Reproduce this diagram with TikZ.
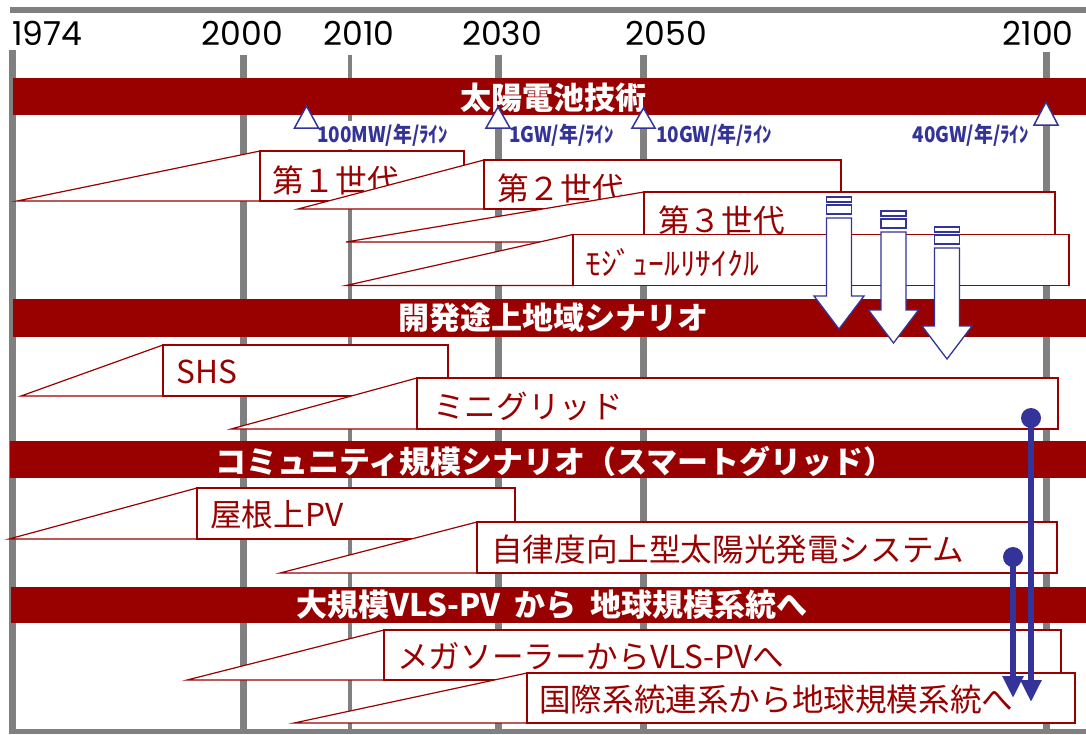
\documentclass[tikz,border=0pt]{standalone}
\usepackage{fontspec}
\usetikzlibrary{arrows.meta}
\newfontfamily\jp{Noto Sans CJK JP}
\newfontfamily\yearfont{Poppins}
\definecolor{dred}{HTML}{990000}
\definecolor{bblue}{HTML}{333399}
\definecolor{lgray}{HTML}{808080}
\tikzset{
  gridline/.style={fill=lgray},
  year/.style={font=\yearfont\fontsize{33}{33}\selectfont, inner sep=0, text=black},
  band/.style={fill=dred},
  bandtext/.style={text=white, font=\jp\bfseries\fontsize{31}{31}\selectfont, inner sep=0},
  wedge/.style={draw=dred, fill=white, line width=1.2pt, line join=miter},
  calloutbox/.style={draw=dred, fill=white, line width=1.2pt, inner sep=0, outer sep=0, anchor=north west},
  boxtext/.style={text=dred, font=\jp\fontsize{31.6}{31.6}\selectfont, anchor=west, inner sep=0},
  milestone/.style={draw=bblue, fill=white, line width=1.5pt, line join=miter},
  mtext/.style={text=bblue, font=\jp\bfseries\fontsize{21.5}{21.5}\selectfont, fill=white, inner xsep=0pt, inner ysep=3pt},
  blockarrow/.style={draw=bblue, fill=white, line width=1.3pt, line join=miter},
  dot/.style={circle, fill=bblue, minimum size=20pt, inner sep=0},
  conn/.style={draw=bblue, line width=6pt, -{Triangle[width=20pt,length=22pt]}}
}
% name, tailx, L, R, T, B, textx, texty, text
\newcommand{\callout}[9]{%
  \coordinate (#1tail) at (#2,#6);
  \coordinate (#1nw) at (#3,#5);
  \coordinate (#1sw) at (#3,#6);
  \filldraw[wedge] (#1tail) -- (#1nw) -- (#1sw) -- cycle;
  \node[calloutbox, minimum width=#4pt-#3pt, minimum height=#6pt-#5pt] (#1) at (#1nw) {};
  \node[boxtext] (#1t) at (#7,#8) {#9};
}
% name, left x, top y
\newcommand{\stripearrow}[3]{%
  \filldraw[blockarrow] (#2,#3) rectangle ({#2+25},{#3+5});
  \filldraw[blockarrow] (#2,{#3+8}) rectangle ({#2+25},{#3+17});
  \filldraw[blockarrow] (#2,{#3+21}) -- ({#2+25},{#3+21}) -- ({#2+25},{#3+99})
     -- ({#2+37.5},{#3+99}) -- ({#2+12.5},{#3+132}) coordinate (#1tip)
     -- ({#2-12.5},{#3+99}) -- (#2,{#3+99}) -- cycle;
}
\begin{document}
\begin{tikzpicture}[x=1pt,y=-1pt]
\useasboundingbox (0,0) rectangle (1086,734);
\fill[white] (0,0) rectangle (1086,734);

% timeline grid
\fill[gridline] (10,7) rectangle (1086,13);
\fill[gridline] (9,729) rectangle (1086,734);
\fill[gridline] (8.5,50) rectangle (15.5,734);
\fill[gridline] (239.5,55) rectangle (246.5,734);
\fill[gridline] (348.3,55) rectangle (352.3,734);
\fill[gridline] (494.5,55) rectangle (501.5,734);
\fill[gridline] (639.5,55) rectangle (646.5,734);
\fill[gridline] (1042.5,52) rectangle (1049.5,734);

% years
\node[year, anchor=base west] (y1974) at (12,45) {1974};
\node[year, anchor=base] (y2000) at (242.5,45) {2000};
\node[year, anchor=base] (y2010) at (359,45) {2010};
\node[year, anchor=base] (y2030) at (502,45) {2030};
\node[year, anchor=base] (y2050) at (666.5,45) {2050};
\node[year, anchor=base] (y2100) at (1038,45) {2100};

% band 1
\fill[band] (13,78) rectangle (1086,115);
\node[bandtext] (b1) at (553,97.5) {太陽電池技術};

% milestone labels
\node[mtext, anchor=west] (m1) at (317,135) {\scalebox{0.88}[1]{100MW/年/ﾗｲﾝ}};
\node[mtext, anchor=west] (m2) at (509,135) {\scalebox{0.88}[1]{1GW/年/ﾗｲﾝ}};
\node[mtext, anchor=west] (m3) at (656,135) {\scalebox{0.88}[1]{10GW/年/ﾗｲﾝ}};
\node[mtext, anchor=east] (m4) at (1029,135) {\scalebox{0.88}[1]{40GW/年/ﾗｲﾝ}};
\filldraw[milestone] (306.5,106) -- (318.5,128) -- (294.5,128) -- cycle;
\filldraw[milestone] (498,107) -- (510,128) -- (486,128) -- cycle;
\filldraw[milestone] (643.5,108) -- (655,128) -- (632,128) -- cycle;
\filldraw[milestone] (1046,102) -- (1058,125) -- (1034,125) -- cycle;

% solar cell generations
\callout{g1}{17}{260}{464}{151}{201}{272}{180}{第１世代}
\callout{g2}{298}{484}{841}{160}{209}{497}{188}{第２世代}
\callout{g3}{346}{644}{1055}{192}{242}{658}{220}{第３世代}
\callout{g4}{346}{573}{1069}{234.5}{285.5}{585}{263}{ﾓｼﾞｭｰﾙﾘｻｲｸﾙ}

% band 2
\fill[band] (13,299) rectangle (1086,337);
\node[bandtext] (b2) at (553,318) {開発途上地域シナリオ};

% recycling arrows
\stripearrow{ra1}{826.5}{197}
\stripearrow{ra2}{881}{211}
\stripearrow{ra3}{934.5}{227}

% developing regions
\callout{s1}{21}{163}{448}{345}{396}{176}{372}{SHS}
\callout{s2}{231}{417}{1058}{378}{429}{433}{406}{ミニグリッド}

% band 3
\fill[band] (10,441) rectangle (1086,478);
\node[bandtext] (b3) at (555,461) {コミュニティ規模シナリオ（スマートグリッド）};

\callout{c1}{9}{197}{515}{488}{539}{210}{515}{屋根上PV}
\callout{c2}{280}{477}{1057}{522}{573}{491}{550}{自律度向上型太陽光発電システム}

% band 4
\fill[band] (11,587) rectangle (1086,623);
\node[bandtext] (b4) at (552,605) {大規模VLS-PV\hspace{0.45em}から\hspace{0.45em}地球規模系統へ};

\callout{v1}{187}{384}{1061}{630}{680}{397}{657}{メガソーラーからVLS-PVへ}
\callout{v2}{294}{527}{1075}{673}{723}{539}{700}{国際系統連系から地球規模系統へ}

% connectors
\node[dot] (d1) at (1031,418) {};
\node[dot] (d2) at (1013,557) {};
\coordinate (e1) at (1031,702);
\coordinate (e2) at (1013,698);
\draw[conn] (d1.center) -- (e1);
\draw[conn] (d2.center) -- (e2);
\end{tikzpicture}
\end{document}
